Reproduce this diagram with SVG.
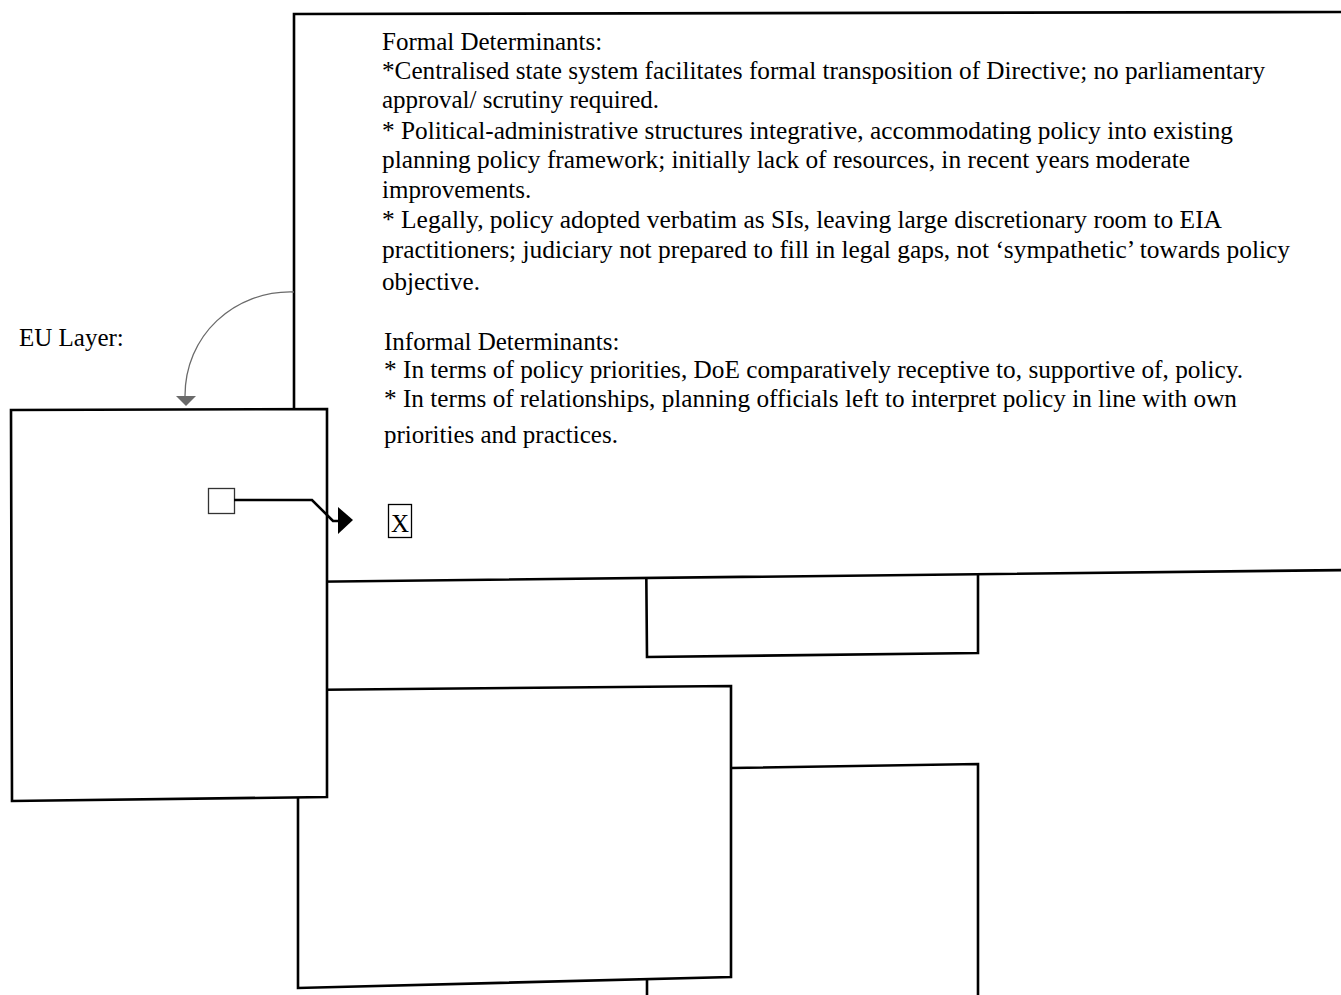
<svg xmlns="http://www.w3.org/2000/svg" width="1341" height="995" viewBox="0 0 1341 995">
<style>
.box{fill:#fff;stroke:#000;stroke-width:2.6;stroke-linejoin:miter}
.edge{fill:none;stroke:#000;stroke-width:2.6}
.t{font-family:"Liberation Serif","Times New Roman",serif;font-size:25px;fill:#000}
.conn{fill:none;stroke:#000;stroke-width:2.6}
.curve{fill:none;stroke:#6a6a6a;stroke-width:1.3}
</style>
<rect width="1341" height="995" fill="#fff"/>
<g id="box-bottom"><path class="edge" d="M647,980 L647,1000"/></g>
<g id="box-right"><path class="edge" d="M731,768 L978,764 L978,1000"/></g>
<g id="box-under"><polygon class="box" points="646,540 978,540 978,653 647,657"/></g>
<g id="box-middle"><polygon class="box" points="298,690 731,686 731,977 298,988"/></g>
<g id="box-text">
<polygon class="box" points="294,14 1350,12 1350,570 294,582"/>
<text class="t" x="382" y="50">Formal Determinants:</text>
<text class="t" x="382" y="79" textLength="883" lengthAdjust="spacingAndGlyphs">*Centralised state system facilitates formal transposition of Directive; no parliamentary</text>
<text class="t" x="382" y="108">approval/ scrutiny required.</text>
<text class="t" x="382" y="139" textLength="851" lengthAdjust="spacingAndGlyphs">* Political-administrative structures integrative, accommodating policy into existing</text>
<text class="t" x="382" y="168" textLength="808" lengthAdjust="spacingAndGlyphs">planning policy framework; initially lack of resources, in recent years moderate</text>
<text class="t" x="382" y="198">improvements.</text>
<text class="t" x="382" y="228" textLength="840" lengthAdjust="spacingAndGlyphs">* Legally, policy adopted verbatim as SIs, leaving large discretionary room to EIA</text>
<text class="t" x="382" y="258" textLength="908" lengthAdjust="spacingAndGlyphs">practitioners; judiciary not prepared to fill in legal gaps, not ‘sympathetic’ towards policy</text>
<text class="t" x="382" y="290">objective.</text>
<text class="t" x="384" y="350">Informal Determinants:</text>
<text class="t" x="384" y="378" textLength="859" lengthAdjust="spacingAndGlyphs">* In terms of policy priorities, DoE comparatively receptive to, supportive of, policy.</text>
<text class="t" x="384" y="407" textLength="853" lengthAdjust="spacingAndGlyphs">* In terms of relationships, planning officials left to interpret policy in line with own</text>
<text class="t" x="384" y="443">priorities and practices.</text>
<rect x="388.5" y="504.5" width="23" height="33" fill="#fff" stroke="#000" stroke-width="1.3"/>
<text class="t" x="400" y="532" text-anchor="middle">X</text>
</g>
<g id="label-eu"><text class="t" x="19" y="346">EU Layer:</text></g>
<g id="box-eu">
<polygon class="box" points="11,410 327,409 327,797 12,801"/>
<rect x="208.5" y="488.5" width="26" height="25" fill="#fff" stroke="#333" stroke-width="1.3"/>
</g>
<g id="connectors">
<polyline class="conn" points="234,500 312,500 333,521 340,521"/>
<polygon points="338,507 353,520 338,534" fill="#000"/>
<path class="curve" d="M294,292 C235,290 184,335 185,398"/>
<polygon points="176,396 196,396 186,406" fill="#6a6a6a"/>
</g>
</svg>
